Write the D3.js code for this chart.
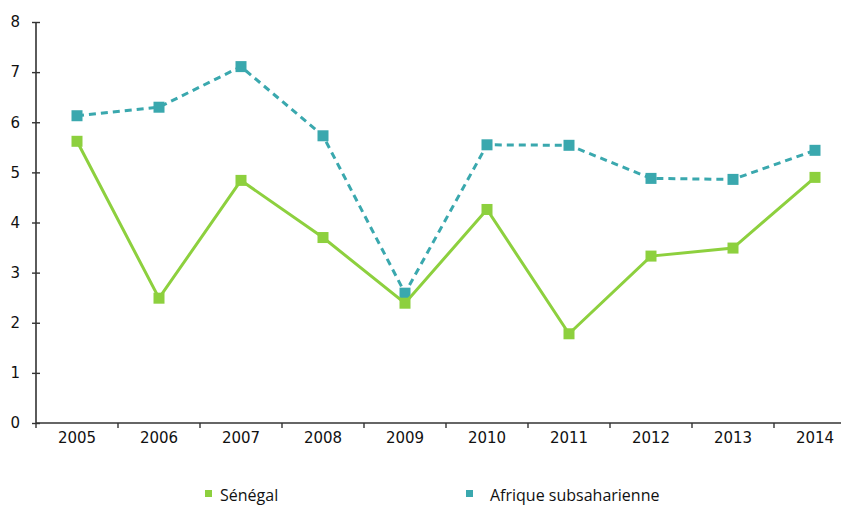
<!DOCTYPE html>
<html>
<head>
<meta charset="utf-8">
<script src="https://cdn.jsdelivr.net/npm/d3@7"></script>
<style>
  html, body { margin: 0; padding: 0; background: #ffffff; }
  svg { display: block; }
</style>
</head>
<body>
<svg id="chart" width="841" height="505"></svg>
<script>
// Growth data, 2005–2014
const years = ["2005", "2006", "2007", "2008", "2009", "2010", "2011", "2012", "2013", "2014"];
const senegal = [5.62, 2.49, 4.84, 3.70, 2.39, 4.26, 1.78, 3.33, 3.49, 4.90];
const afrique = [6.13, 6.30, 7.11, 5.73, 2.59, 5.55, 5.54, 4.88, 4.86, 5.44];
const yTicks = [0, 1, 2, 3, 4, 5, 6, 7, 8];
const seriesNames = ["Sénégal", "Afrique subsaharienne"];

const colGreen = "#8dd03e";
const colTeal = "#3aa8ae";
const axisFont = "'DejaVu Sans', Verdana, sans-serif";
const legendFont = "'Open Sans', 'Noto Sans', sans-serif";

const svg = d3.select("#chart");
const x0 = 36, yTop = 22, yBottom = 423;

const x = d3.scaleBand().domain(years).range([x0, x0 + 82 * years.length]).padding(0);
const y = d3.scaleLinear().domain([0, 8]).range([yBottom, yTop]);
const cx = d => x(d) + x.bandwidth() / 2;

// Y axis with ticks crossing the axis line
const yAxis = svg.append("g")
  .attr("transform", `translate(${x0},0)`)
  .call(d3.axisLeft(y).tickValues(yTicks).tickFormat(d3.format("d")).tickSize(4).tickPadding(12));
yAxis.select(".domain").attr("d", `M0,${yTop}V${yBottom}`).attr("stroke", "#333").attr("stroke-width", 1.6);
yAxis.selectAll(".tick line").attr("x1", -4).attr("x2", 4).attr("stroke", "#333").attr("stroke-width", 1.4);
yAxis.selectAll(".tick text")
  .attr("font-family", axisFont).attr("font-size", 15).attr("fill", "#111");

// X axis: labels centred in each band, ticks at band boundaries
const xAxis = svg.append("g")
  .attr("transform", `translate(0,${yBottom})`)
  .call(d3.axisBottom(x).tickSize(0).tickPadding(9));
xAxis.select(".domain").attr("d", `M${x0},0H${x0 + 82 * years.length}`).attr("stroke", "#333").attr("stroke-width", 1.6);
xAxis.selectAll(".tick text")
  .attr("font-family", axisFont).attr("font-size", 15).attr("fill", "#111");
xAxis.selectAll(".boundary")
  .data(years)
  .join("line")
  .attr("class", "boundary")
  .attr("x1", d => x(d)).attr("x2", d => x(d))
  .attr("y1", 0).attr("y2", 5)
  .attr("stroke", "#333").attr("stroke-width", 1.4);

// Series lines and square markers
const line = d3.line().x((d, i) => cx(years[i])).y(d => y(d));

function drawSeries(values, color, dash, cls) {
  const g = svg.append("g").attr("class", cls);
  g.append("path")
    .datum(values)
    .attr("d", line)
    .attr("fill", "none")
    .attr("stroke", color)
    .attr("stroke-width", 3)
    .attr("stroke-dasharray", dash);
  g.selectAll("rect")
    .data(values)
    .join("rect")
    .attr("x", (d, i) => cx(years[i]) - 5.5)
    .attr("y", d => y(d) - 5.5)
    .attr("width", 11)
    .attr("height", 11)
    .attr("fill", color);
}

drawSeries(afrique, colTeal, "7,5", "afrique");
drawSeries(senegal, colGreen, null, "senegal");

// Legend
const legendItems = [
  { name: seriesNames[0], color: colGreen, x: 205, tx: 220 },
  { name: seriesNames[1], color: colTeal, x: 466, tx: 490 }
];
const legend = svg.append("g").attr("class", "legend");
legendItems.forEach(item => {
  legend.append("rect")
    .attr("x", item.x).attr("y", 490)
    .attr("width", 7).attr("height", 7)
    .attr("fill", item.color);
  legend.append("text")
    .attr("x", item.tx).attr("y", 501)
    .attr("font-family", legendFont).attr("font-size", 16)
    .attr("fill", "#111")
    .text(item.name);
});
</script>
</body>
</html>
